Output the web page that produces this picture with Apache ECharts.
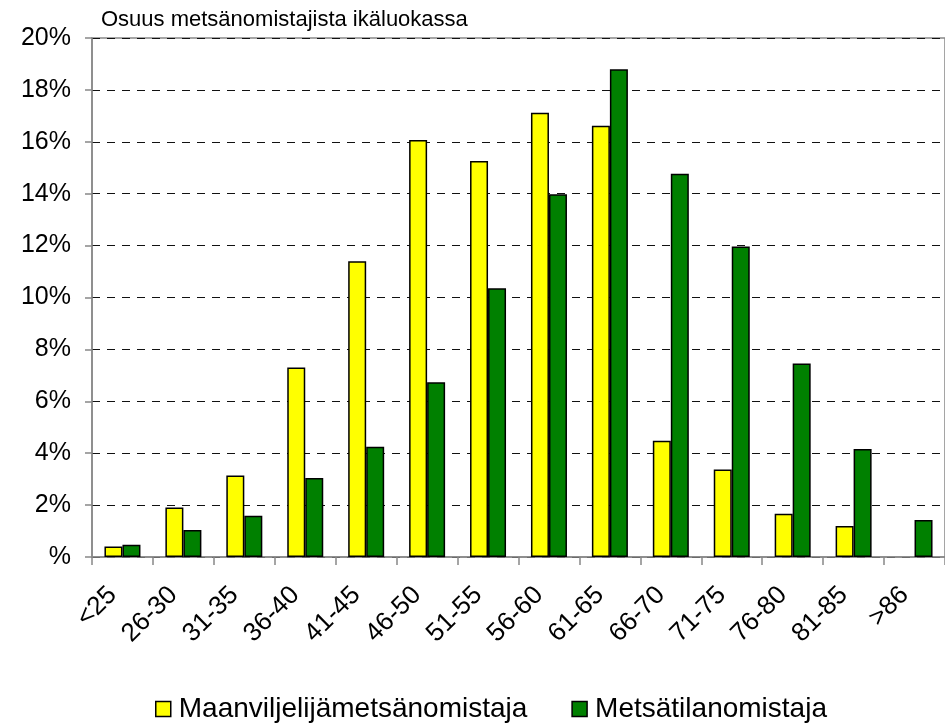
<!DOCTYPE html>
<html>
<head>
<meta charset="utf-8">
<script src="https://cdn.jsdelivr.net/npm/echarts@6/dist/echarts.min.js"></script>
<style>
html,body{margin:0;padding:0;background:#fff;}
#main{width:945px;height:725px;}
</style>
</head>
<body>
<div id="main"></div>
<script>
var titleText = 'Osuus metsänomistajista ikäluokassa';
var categories = ['<25','26-30','31-35','36-40','41-45','46-50','51-55','56-60','61-65','66-70','71-75','76-80','81-85','>86'];
var seriesNames = ['Maanviljelijämetsänomistaja','Metsätilanomistaja'];
var farmerValues = [0.40, 1.91, 3.14, 7.30, 11.40, 16.07, 15.26, 17.12, 16.62, 4.48, 3.37, 1.67, 1.19, null];
var estateValues = [0.47, 1.04, 1.59, 3.04, 4.25, 6.73, 10.36, 13.98, 18.80, 14.77, 11.97, 7.46, 4.16, 1.43];
var yTicks = [0, 2, 4, 6, 8, 10, 12, 14, 16, 18, 20];

var chart = echarts.init(document.getElementById('main'), null, {renderer:'canvas'});
var font = '"Liberation Sans", Arial, sans-serif';
chart.setOption({
  animation:false,
  backgroundColor:'#ffffff',
  title:{
    text:titleText, left:96, top:4,
    textStyle:{fontFamily:font, fontSize:22, fontWeight:'normal', color:'#000'}
  },
  legend:{
    left:155, top:695, padding:0, itemGap:44, itemWidth:15, itemHeight:15, icon:'rect',
    textStyle:{fontFamily:font, fontSize:28, color:'#000', padding:[0,0,0,3]},
    data:[
      {name:seriesNames[0], itemStyle:{color:'#ffff00', borderColor:'#000', borderWidth:1.5}},
      {name:seriesNames[1], itemStyle:{color:'#008000', borderColor:'#000', borderWidth:1.5}}
    ]
  },
  grid:{left:92, top:38, width:861, height:519, show:true, borderColor:'#888', borderWidth:1.5, backgroundColor:'transparent'},
  xAxis:{
    type:'category', data:categories,
    axisLine:{lineStyle:{color:'#888', width:1.5}},
    axisTick:{show:true, length:8, alignWithLabel:false, lineStyle:{color:'#888', width:1.5}},
    axisLabel:{rotate:45, margin:24, padding:[0,14,0,0], fontFamily:font, fontSize:26, color:'#000', interval:0},
    splitLine:{show:false}
  },
  yAxis:{
    type:'value', min:0, max:20, interval:2,
    axisLine:{show:true, lineStyle:{color:'#888', width:1.5}},
    axisTick:{show:true, length:7, lineStyle:{color:'#888', width:1.5}},
    axisLabel:{margin:21, fontFamily:font, fontSize:25, color:'#000',
      formatter:function(v){ return v===0 ? '%' : v + '%'; }},
    splitLine:{show:true, lineStyle:{color:'#111', width:1, type:[8,7]}}
  },
  series:[
    {name:seriesNames[0], type:'bar', data:farmerValues, barWidth:18, barGap:'0%',
     itemStyle:{color:'#ffff00', borderColor:'#000', borderWidth:1.5}},
    {name:seriesNames[1], type:'bar', data:estateValues, barWidth:18, barGap:'0%',
     itemStyle:{color:'#008000', borderColor:'#000', borderWidth:1.5}}
  ]
});
</script>
</body>
</html>
